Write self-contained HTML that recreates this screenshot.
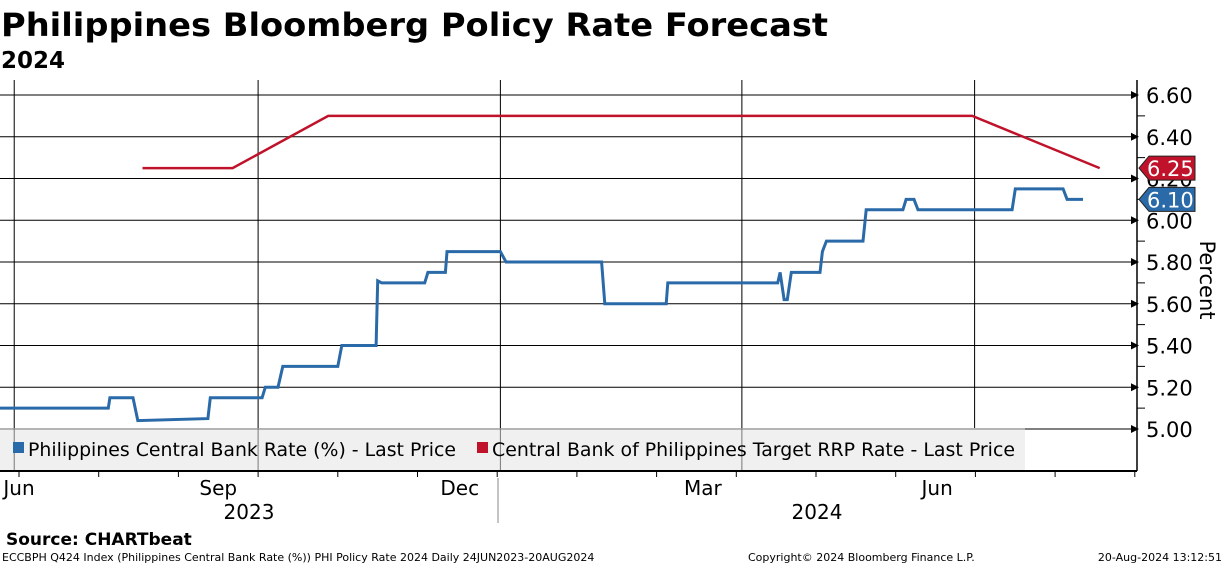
<!DOCTYPE html>
<html><head><meta charset="utf-8"><style>
body{margin:0;background:#fff;width:1224px;height:566px;overflow:hidden;font-family:"DejaVu Sans","Liberation Sans",sans-serif}
</style></head><body>
<svg width="1224" height="566" style="position:absolute;left:0;top:0">
<text x="1" y="36" font-size="32" font-weight="bold" font-family="DejaVu Sans,sans-serif" textLength="827" lengthAdjust="spacingAndGlyphs">Philippines Bloomberg Policy Rate Forecast</text>
<text x="1" y="68" font-size="23" font-weight="bold" font-family="DejaVu Sans,sans-serif">2024</text>
<g id="grid"></g><g id="series"></g><g id="axes"></g>
<text transform="translate(1200,280) rotate(90)" text-anchor="middle" font-size="21">Percent</text>
<text x="6" y="545" font-size="17" font-weight="bold" font-family="DejaVu Sans,sans-serif">Source: CHARTbeat</text>
<text x="2" y="561" font-size="11">ECCBPH Q424 Index (Philippines Central Bank Rate (%)) PHI Policy Rate 2024  Daily 24JUN2023-20AUG2024</text>
<text x="748" y="561" font-size="11">Copyright© 2024 Bloomberg Finance L.P.</text>
<text x="1222" y="561" font-size="11" text-anchor="end">20-Aug-2024 13:12:51</text>
</svg>
<script>
const yTicks=[5.00,5.20,5.40,5.60,5.80,6.00,6.20,6.40,6.60];
const monthLabels=["Jun","Sep","Dec","Mar","Jun"];
const gridT=[-0.06,3.00,6.04,9.07,11.99];
const monthLabelT=[0,2.50,5.53,8.58,11.52];
const yearLabels=["2023","2024"];
const blueT=[-0.24,1.12,1.14,1.43,1.49,2.37,2.40,3.05,3.09,3.25,3.31,4.00,4.05,4.48,4.50,4.55,5.09,5.13,5.35,5.37,6.04,6.11,7.31,7.35,8.12,8.14,9.52,9.55,9.60,9.64,9.69,10.05,10.08,10.13,10.59,10.63,11.09,11.13,11.23,11.28,12.46,12.50,13.10,13.15,13.35];
const blueV=[5.10,5.10,5.15,5.15,5.04,5.05,5.15,5.15,5.20,5.20,5.30,5.30,5.40,5.40,5.71,5.70,5.70,5.75,5.75,5.85,5.85,5.80,5.80,5.60,5.60,5.70,5.70,5.75,5.62,5.62,5.75,5.75,5.85,5.90,5.90,6.05,6.05,6.10,6.10,6.05,6.05,6.15,6.15,6.10,6.10];
const redT=[1.55,2.68,3.88,11.96,13.56];
const redV=[6.25,6.25,6.50,6.50,6.25];
const lastBlue=6.10,lastRed=6.25;
const NS="http://www.w3.org/2000/svg";
const y=v=>95+(6.6-v)*208.75;
const x=t=>19+t*79.7;
function mk(tag,at,parent){const e=document.createElementNS(NS,tag);for(const k in at)e.setAttribute(k,at[k]);document.getElementById(parent).appendChild(e);return e;}
yTicks.forEach(v=>{
 const l=mk('line',{x1:0,x2:1137,y1:y(v),y2:y(v),stroke:'#000','stroke-width':1},'grid');
 
 
 const t=mk('text',{x:1146,y:y(v)+8,'font-size':21},'axes');t.textContent=v.toFixed(2);
 
 
 const a=mk('path',{d:`M1131 ${y(v)-4} L1139 ${y(v)} L1131 ${y(v)+4}Z`,fill:'#000'},'axes');
 
 
});
[5.1,5.3,5.5,5.7,5.9,6.1,6.3,6.5].forEach(v=>{mk('line',{x1:1137,x2:1145,y1:y(v),y2:y(v),stroke:'#000'},'axes');});
gridT.forEach(m=>{
 const l=mk('line',{x1:x(m),x2:x(m),y1:80,y2:471,stroke:'#000'},'grid');
 
 
});
monthLabelT.forEach((m,i)=>{
 const t=mk('text',{x:x(m),y:495,'font-size':20,'text-anchor':'middle'},'axes');t.textContent=monthLabels[i];
 
 
});
for(let m=-1;m<=14;m++){const px=x(gridT[1]+(m-3)*1.0);if(px>=0&&px<1137)mk('line',{x1:px,x2:px,y1:471,y2:477,stroke:'#000'},'axes');}
const lg=mk('rect',{x:0,y:428,width:1025,height:42,fill:'#f0f0f0'},'grid');


mk('line',{x1:0,x2:1025,y1:y(5.0),y2:y(5.0),stroke:'#777'},'grid');
gridT.slice(0,4).forEach(m=>mk('line',{x1:x(m),x2:x(m),y1:428,y2:470,stroke:'#777'},'grid'));
mk('rect',{x:13,y:442,width:11,height:11,fill:'#2a6aa8'},'axes');
let t1=mk('text',{x:28,y:456,'font-size':19,textLength:428,lengthAdjust:'spacingAndGlyphs'},'axes');t1.textContent='Philippines Central Bank Rate (%) - Last Price';


mk('rect',{x:477,y:442,width:11,height:11,fill:'#c0132b'},'axes');
let t2=mk('text',{x:492,y:456,'font-size':19,textLength:523,lengthAdjust:'spacingAndGlyphs'},'axes');t2.textContent='Central Bank of Philippines Target RRP Rate - Last Price';


mk('line',{x1:0,x2:1137,y1:471,y2:471,stroke:'#000','stroke-width':2},'axes');
mk('line',{x1:1137,x2:1137,y1:80,y2:471,stroke:'#000','stroke-width':1.5},'axes');
mk('line',{x1:498,x2:498,y1:478,y2:523,stroke:'#888'},'axes');
[249,817].forEach((px,i)=>{const t=mk('text',{x:px,y:519,'font-size':20,'text-anchor':'middle'},'axes');t.textContent=yearLabels[i];
 
 });
const bp=blueT.map((t,i)=>`${x(t).toFixed(1)},${y(blueV[i]).toFixed(1)}`).join(' ');
const b=mk('polyline',{points:bp,fill:'none',stroke:'#2a6aa8','stroke-width':3},'series');


const rp=redT.map((t,i)=>`${x(t).toFixed(1)},${y(redV[i]).toFixed(1)}`).join(' ');
const r=mk('polyline',{points:rp,fill:'none',stroke:'#c0132b','stroke-width':2.5},'series');


[[lastRed,'#c0132b','last-value-tag-rrp'],[lastBlue,'#2a6aa8','last-value-tag-central-bank']].forEach(([v,c,n])=>{
 const yy=y(v);
 const p=mk('path',{d:`M1139 ${yy} L1149 ${yy-12} L1195 ${yy-12} L1195 ${yy+12} L1149 ${yy+12}Z`,fill:c,stroke:'#222'},'axes');
 
 
 const t=mk('text',{x:1147,y:yy+8,'font-size':21,fill:'#fff'},'axes');t.textContent=v.toFixed(2);
});
</script>
</body></html>
